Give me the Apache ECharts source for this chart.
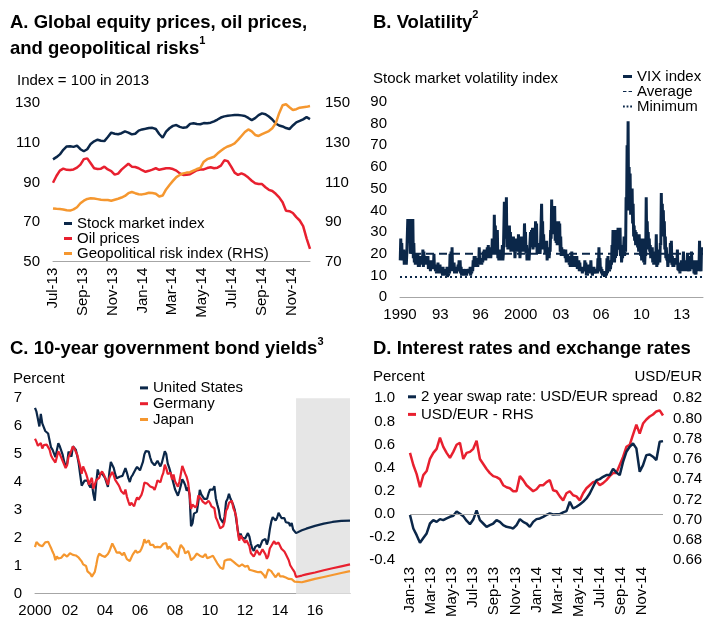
<!DOCTYPE html>
<html><head><meta charset="utf-8">
<script src="https://cdn.jsdelivr.net/npm/echarts@6/dist/echarts.min.js"></script>
<style>html,body{margin:0;padding:0;background:#fff}#c{width:705px;height:618px}</style>
</head><body><div id="c"></div>
<script>
const NAVY = '#0b2749', RED = '#e8202f', ORANGE = '#f5972f', AXIS_GREY = '#a6a6a6', SHADE = '#e6e6e6';
const FONT = '"Liberation Sans", Arial, sans-serif';
const monthNames = ['Jan','Feb','Mar','Apr','May','Jun','Jul','Aug','Sep','Oct','Nov','Dec'];

// ---------- Panel A: weekly, from Jul-2013 ----------
const aStartMonth = 6, aStartYY = 13;
const aStock = [101.7,102.8,104.2,106.5,108.2,108.3,108.0,108.6,106.8,105.8,
  106.8,109.5,110.8,111.6,111.1,110.9,113.0,115.2,114.6,114.4,
  114.9,115.8,115.2,114.3,114.6,116.2,116.8,117.1,117.5,117.6,
  117.0,114.5,112.6,115.7,117.4,118.6,119.0,118.1,117.6,117.9,
  119.6,119.9,119.5,119.4,120.0,119.9,120.2,120.9,121.8,122.8,
  123.4,123.7,123.9,124.1,124.1,123.9,123.6,122.6,121.5,122.5,
  124.0,124.9,124.5,123.3,121.8,119.8,118.8,118.3,117.5,117.0,
  118.8,120.4,121.1,121.9,123.0,122.0];
const aOil = [89.9,93.3,96.0,97.0,96.4,96.3,96.6,97.5,99.0,101.8,
  102.2,99.7,97.2,96.8,97.0,98.0,96.6,95.8,94.0,94.5,
  96.5,98.0,99.5,98.0,97.8,97.2,96.2,95.4,95.9,96.5,
  97.2,96.4,96.8,97.2,97.2,96.8,96.0,94.6,93.8,93.9,
  94.2,95.2,96.2,96.6,96.6,97.3,97.7,97.2,97.5,98.5,
  101.2,100.8,98.0,95.0,93.8,94.6,93.8,92.5,90.9,89.6,
  89.2,89.2,87.6,86.3,85.7,84.3,82.5,80.0,75.7,75.5,
  74.6,72.5,70.8,68.0,61.8,56.5];
const aGeo = [96.9,96.7,96.6,96.4,96.0,95.8,96.4,97.5,99.5,100.8,
  101.7,102.0,101.9,101.6,101.3,101.2,101.2,100.8,101.3,101.8,
  102.4,103.2,104.6,105.2,104.6,104.1,104.0,104.3,104.8,104.7,
  104.3,102.9,103.4,106.5,108.7,110.8,112.7,113.8,114.6,115.0,
  115.2,116.0,116.8,117.4,120.5,121.8,122.4,123.0,124.6,126.0,
  127.3,128.2,128.8,129.8,131.5,133.5,135.5,136.8,135.8,134.0,
  133.5,134.4,135.2,136.0,137.4,139.9,145.0,149.0,149.5,148.0,
  146.6,147.0,147.8,148.0,148.2,148.6];
const aWeek = 7 / 30.4375; // one week in months
const aX = i => i * aWeek;
const aMax = aX(aStock.length - 1);

// ---------- Panel B: VIX monthly low / high 1990-2014 ----------
const vixLow = [
  17,20,17,17,15,15,15,20,25,25,20,20,
  24,18,16,15,15,15,14,14,15,15,15,14,
  15,15,15,15,13,13,12,13,13,14,13,12,
  11,12,11,12,11,11,10,10,10,10,10,9.3,
  10,11,13,14,12,12,11,11,11,12,13,12,
  11,10,10,10,11,10,10,11,11,11,10,11,
  12,14,15,14,14,14,15,15,15,15,16,18,
  18,17,18,19,18,18,18,20,21,20,23,21,
  20,18,17,18,17,18,17,20,31,27,23,22,
  23,23,21,23,22,21,18,21,21,21,21,18,
  21,21,21,23,24,20,17,17,17,21,23,25,
  22,23,25,25,20,20,20,20,25,27,22,22,
  20,21,17,18,18,21,27,29,30,30,26,25,
  24,29,27,21,19,19,19,19,18,16,16,16,
  15,14,15,14,15,14,14,15,13,14,12,12,
  12,11,12,12,12,10,10,11,11,12,11,10,
  11,11,11,11,11,13,13,12,11,10,10,9.4,
  10,10,11,12,12,13,15,19,17,16,18,19,
  22,23,23,19,16,18,22,19,21,40,50,40,
  40,38,38,34,28,26,24,24,23,21,21,19,
  17,19,16,15,19,25,23,22,21,18,18,16,
  15,15,17,14,15,17,16,24,31,29,28,22,
  18,17,14,16,17,17,15,14,14,15,15,15,
  12.5,12,11,12,12,14,12,12,13,13,12,12,
  12,13,14,13,11,10.5,10.5,12,12,14,13,12];
const vixHigh = [
  27,25,21,22,19,18,20,36,33,36,28,26,
  36,25,20,19,18,20,17,19,18,19,22,21,
  19,18,18,19,16,17,16,17,16,20,15,14,
  15,16,14,15,14,13,14,12,13,13,14,12,
  12,20,21,23,16,16,14,13,14,15,17,17,
  14,12,13,12,13,13,13,13,13,14,13,14,
  17,19,19,18,18,16,23,18,18,18,21,22,
  22,21,23,24,21,22,23,27,25,38,33,27,
  31,21,20,22,21,24,20,44,42,46,28,27,
  33,30,27,28,28,26,22,27,26,29,24,23,
  28,26,27,34,30,24,22,20,21,30,31,32,
  30,31,35,34,25,23,24,25,43,35,29,25,
  25,26,21,22,23,31,45,40,40,42,34,32,
  35,35,34,28,23,22,22,22,22,20,20,19,
  18,16,21,17,19,16,17,19,15,17,16,14,
  14,13,14,17,16,13,12,15,13,17,13,12,
  14,13,12,13,18,23,18,14,13,12,12,11,
  11,18,19,15,14,17,24,31,26,23,31,23,
  32,28,32,23,20,24,28,22,46,70,81,60,
  57,50,50,43,33,31,30,27,26,29,25,22,
  27,27,19,22,46,35,30,27,24,22,23,18,
  19,21,29,17,18,22,25,48,43,40,35,28,
  23,19,17,20,25,26,19,18,17,18,18,22,
  15,16,14,17,16,21,15,17,17,20,14,16,
  19,21,17,17,14,12.5,17,16,16,26,14,23];
const vixAverage = 20.0;
const vixMinimum = 9.31;
const bStartYear = 1990, bMax = 2015.1;

// ---------- Panel C: 10-year yields, monthly 2000-2014 + forwards ----------
const usYield = [
  6.66,6.52,6.26,5.99,6.44,6.10,6.05,5.83,5.80,5.74,5.72,5.24,
  5.16,5.10,4.89,5.14,5.39,5.28,5.24,4.97,4.73,4.57,4.65,5.09,
  5.04,4.91,5.28,5.21,5.16,4.93,4.65,4.26,3.87,3.94,4.05,4.03,
  4.05,3.90,3.81,3.96,3.57,3.33,3.98,4.45,4.27,4.29,4.30,4.27,
  4.15,4.08,3.83,4.35,4.72,4.73,4.50,4.28,4.13,4.10,4.19,4.23,
  4.22,4.17,4.50,4.34,4.14,4.00,4.18,4.26,4.20,4.46,4.54,4.47,
  4.42,4.57,4.72,4.99,5.11,5.11,5.09,4.88,4.72,4.73,4.60,4.56,
  4.76,4.72,4.56,4.69,4.75,5.10,5.00,4.67,4.52,4.53,4.15,4.10,
  3.74,3.74,3.51,3.68,3.88,4.10,4.01,3.89,3.69,3.81,3.53,2.42,
  2.52,2.87,2.82,2.93,3.29,3.72,3.56,3.59,3.40,3.39,3.40,3.59,
  3.73,3.69,3.73,3.85,3.42,3.20,3.01,2.70,2.65,2.54,2.76,3.29,
  3.39,3.58,3.41,3.46,3.17,3.00,3.00,2.30,1.98,2.15,2.01,1.98,
  1.97,1.97,2.17,2.05,1.80,1.62,1.53,1.68,1.72,1.75,1.65,1.72,
  1.91,1.98,1.96,1.76,1.93,2.30,2.58,2.74,2.81,2.62,2.72,2.90,
  2.86,2.71,2.72,2.71,2.56,2.60,2.54,2.42,2.53,2.30,2.33,2.17];
const deYield = [
  5.55,5.44,5.30,5.28,5.40,5.20,5.32,5.25,5.34,5.25,5.16,4.95,
  4.85,4.79,4.70,4.90,5.10,5.00,5.00,4.75,4.74,4.50,4.60,4.90,
  5.00,4.96,5.28,5.20,5.18,4.97,4.76,4.56,4.30,4.56,4.60,4.30,
  4.13,3.90,4.05,4.15,3.76,3.82,4.07,4.11,4.15,4.30,4.38,4.29,
  4.17,4.06,3.90,4.15,4.26,4.36,4.24,4.08,4.05,3.92,3.82,3.68,
  3.61,3.57,3.73,3.48,3.31,3.16,3.26,3.24,3.13,3.32,3.45,3.37,
  3.38,3.54,3.71,3.98,4.01,3.95,3.99,3.84,3.78,3.80,3.72,3.87,
  4.06,4.05,3.99,4.19,4.33,4.62,4.49,4.29,4.30,4.33,4.09,4.27,
  4.03,3.96,3.83,4.01,4.29,4.58,4.56,4.30,4.18,3.98,3.55,3.04,
  3.19,3.20,3.09,3.17,3.52,3.45,3.39,3.30,3.25,3.22,3.19,3.33,
  3.25,3.13,3.11,3.06,2.73,2.62,2.67,2.34,2.35,2.41,2.59,2.97,
  3.06,3.25,3.27,3.33,3.07,2.94,2.75,2.25,1.90,2.08,2.15,1.91,
  1.83,1.91,1.87,1.71,1.46,1.44,1.33,1.43,1.56,1.51,1.39,1.36,
  1.59,1.62,1.41,1.25,1.36,1.62,1.63,1.80,1.88,1.78,1.71,1.83,
  1.76,1.61,1.57,1.51,1.41,1.35,1.20,1.02,0.99,0.85,0.77,0.60];
const jpYield = [
  1.67,1.85,1.80,1.74,1.71,1.70,1.73,1.84,1.89,1.86,1.75,1.64,
  1.51,1.40,1.20,1.34,1.26,1.19,1.29,1.36,1.41,1.36,1.33,1.35,
  1.45,1.52,1.39,1.40,1.37,1.33,1.29,1.23,1.16,1.05,0.99,0.99,
  0.80,0.78,0.71,0.61,0.54,0.78,1.03,1.30,1.43,1.42,1.36,1.34,
  1.32,1.26,1.42,1.52,1.52,1.80,1.78,1.59,1.47,1.50,1.48,1.43,
  1.38,1.48,1.45,1.24,1.26,1.17,1.24,1.40,1.42,1.55,1.47,1.47,
  1.51,1.61,1.74,1.95,1.82,1.86,1.91,1.75,1.69,1.75,1.66,1.66,
  1.68,1.69,1.66,1.69,1.79,1.86,1.81,1.59,1.69,1.62,1.55,1.51,
  1.44,1.45,1.30,1.60,1.75,1.75,1.61,1.44,1.50,1.53,1.39,1.20,
  1.27,1.29,1.33,1.44,1.46,1.36,1.40,1.31,1.32,1.42,1.27,1.29,
  1.31,1.32,1.36,1.27,1.27,1.09,1.05,0.94,0.95,0.88,1.18,1.11,
  1.22,1.28,1.23,1.24,1.15,1.14,1.06,1.03,0.98,1.02,1.05,0.98,
  0.97,0.95,1.00,0.86,0.83,0.83,0.76,0.80,0.78,0.77,0.71,0.78,
  0.76,0.66,0.56,0.58,0.87,0.84,0.81,0.73,0.68,0.59,0.61,0.74,
  0.62,0.58,0.62,0.62,0.58,0.56,0.53,0.50,0.52,0.46,0.43,0.36];
const fwdYears = [2014.917, 2015.25, 2015.5, 2016, 2016.5, 2017, 2017.5, 2018];
const usFwd = [2.17, 2.27, 2.33, 2.43, 2.51, 2.57, 2.61, 2.62];
const deFwd = [0.60, 0.65, 0.69, 0.76, 0.84, 0.91, 0.98, 1.05];
const jpFwd = [0.36, 0.41, 0.45, 0.53, 0.60, 0.67, 0.74, 0.81];
const cStartYear = 2000, cMax = 2018;

// ---------- Panel D: Jan-2013 to Dec-2014 ----------
const dSpread = [-0.01,-0.127,-0.185,-0.25,-0.21,-0.17,-0.084,-0.055,-0.07,-0.046,
  -0.055,-0.04,-0.026,-0.017,0.02,0.0,-0.02,-0.06,-0.09,-0.05,
  0.03,-0.055,-0.084,-0.113,-0.098,-0.084,-0.055,-0.07,-0.098,-0.113,
  -0.118,-0.127,-0.098,-0.046,-0.07,-0.084,-0.113,-0.07,-0.046,-0.04,
  -0.026,-0.01,0.003,-0.006,-0.003,-0.003,0.012,0.023,0.104,0.046,
  0.061,0.081,0.104,0.133,0.176,0.234,0.291,0.30,0.32,0.335,
  0.335,0.39,0.358,0.335,0.45,0.537,0.58,0.609,0.566,0.364,
  0.421,0.508,0.514,0.494,0.465,0.623,0.629];
const dUsdEur = [0.766,0.754,0.745,0.732,0.744,0.748,0.760,0.766,0.770,0.781,
  0.772,0.766,0.761,0.767,0.774,0.776,0.760,0.766,0.767,0.770,
  0.778,0.760,0.755,0.750,0.746,0.743,0.742,0.740,0.734,0.732,
  0.731,0.728,0.728,0.743,0.739,0.734,0.731,0.728,0.730,0.734,
  0.734,0.737,0.739,0.729,0.728,0.723,0.719,0.726,0.728,0.724,
  0.723,0.719,0.726,0.731,0.734,0.737,0.738,0.734,0.736,0.739,
  0.743,0.746,0.746,0.754,0.762,0.772,0.774,0.784,0.794,0.785,
  0.795,0.799,0.802,0.804,0.807,0.808,0.803];
const dStartMonth = 0, dStartYY = 13, dMax = 24;
const dX = i => i * dMax / (dSpread.length - 1);

// ---------- helpers ----------
function monthLabel(startMonth, startYY) {
  return v => {
    const m = Math.round(v);
    if (Math.abs(v - m) > 1e-6) return '';
    const idx = startMonth + m;
    return monthNames[idx % 12] + '-' + String(startYY + Math.floor(idx / 12)).padStart(2, '0');
  };
}
function yearLabel(v) {
  const y = Math.floor(v + 0.01);
  return (y === 1990 || y === 2000) ? String(y) : String(y % 100).padStart(2, '0');
}
const lbl = { color: '#000', fontSize: 15, fontFamily: FONT };
function xBase(gi, extra) {
  return Object.assign({
    type: 'value', gridIndex: gi,
    axisLine: { show: true, lineStyle: { color: AXIS_GREY, width: 1 } },
    axisTick: { show: false }, splitLine: { show: false }
  }, extra);
}
function yBase(gi, extra) {
  return Object.assign({
    type: 'value', gridIndex: gi,
    axisLine: { show: false }, axisTick: { show: false }, splitLine: { show: false }
  }, extra);
}
function lineSeries(name, xi, yi, data, color, width, extra) {
  return Object.assign({
    name, type: 'line', xAxisIndex: xi, yAxisIndex: yi, data,
    symbol: 'none', showSymbol: false, animation: false,
    lineStyle: { color, width }, itemStyle: { color }
  }, extra || {});
}

// build series data
const aStockD = aStock.map((v, i) => [aX(i), v]);
const aOilD = aOil.map((v, i) => [aX(i), v]);
const aGeoD = aGeo.map((v, i) => [aX(i), v]);
const vixD = [];
vixLow.forEach((lo, m) => {
  vixD.push([bStartYear + (m + 0.25) / 12, lo]);
  vixD.push([bStartYear + (m + 0.75) / 12, vixHigh[m]]);
});
const cHist = (arr) => arr.map((v, i) => [cStartYear + i / 12, v]);
const usD = cHist(usYield).concat(fwdYears.slice(1).map((y, i) => [y, usFwd[i + 1]]));
const deD = cHist(deYield).concat(fwdYears.slice(1).map((y, i) => [y, deFwd[i + 1]]));
const jpD = cHist(jpYield).concat(fwdYears.slice(1).map((y, i) => [y, jpFwd[i + 1]]));
const dSpreadD = dSpread.map((v, i) => [dX(i), v]);
const dFxD = dUsdEur.map((v, i) => [dX(i), v]);

const titleRich = {
  t: { fontSize: 18.5, fontWeight: 'bold', color: '#000', fontFamily: FONT, lineHeight: 26 },
  s: { fontSize: 11, fontWeight: 'bold', color: '#000', fontFamily: FONT, lineHeight: 14, verticalAlign: 'top' }
};
const subStyle = { fontSize: 15, fontWeight: 'normal', color: '#000', fontFamily: FONT, lineHeight: 18 };

const ICON_SOLID = 'rect';
const ICON_DASH = 'path://M0,0H4V1H0Z M6.5,0H10.5V1H6.5Z';
const ICON_DOT = 'path://M0,0H2V2H0Z M4,0H6V2H4Z M8,0H10V2H8Z';
const legendBase = (extra, lh) => Object.assign({
  orient: 'vertical', itemGap: 0, itemWidth: 8, itemHeight: 3, padding: 0, selectedMode: false,
  textStyle: { color: '#000', fontSize: 15, fontFamily: FONT, lineHeight: lh || 15 }
}, extra);

const option = {
  animation: false,
  textStyle: { fontFamily: FONT },
  title: [
    { left: 10, top: 9.6, padding: 0, text: '{t|A. Global equity prices, oil prices,}\n{t|and geopolitical risks}{s|1}', textStyle: { rich: titleRich } },
    { left: 373, top: 9.6, padding: 0, text: '{t|B. Volatility}{s|2}', textStyle: { rich: titleRich } },
    { left: 10, top: 336, padding: 0, text: '{t|C. 10-year government bond yields}{s|3}', textStyle: { rich: titleRich } },
    { left: 373, top: 336, padding: 0, text: '{t|D. Interest rates and exchange rates}', textStyle: { rich: titleRich } },
    { left: 17, top: 72, padding: 0, text: 'Index = 100 in 2013', textStyle: subStyle },
    { left: 373, top: 70, padding: 0, text: 'Stock market volatility index', textStyle: subStyle },
    { left: 13, top: 370, padding: 0, text: 'Percent', textStyle: subStyle },
    { left: 373, top: 368, padding: 0, text: 'Percent', textStyle: subStyle },
    { right: 3, top: 368, padding: 0, text: 'USD/EUR', textStyle: subStyle }
  ],
  grid: [
    { left: 53, top: 103.3, width: 257, height: 158.4, outerBoundsMode: 'none' },
    { left: 400, top: 101.7, width: 303, height: 195.6, outerBoundsMode: 'none' },
    { left: 35, top: 398.3, width: 315, height: 195.4, outerBoundsMode: 'none' },
    { left: 410, top: 398.3, width: 253, height: 161.7, outerBoundsMode: 'none' }
  ],
  xAxis: [
    xBase(0, { min: 0, max: aMax, interval: 2,
      axisLabel: Object.assign({ rotate: 90, margin: 6, showMaxLabel: false, formatter: monthLabel(aStartMonth, aStartYY) }, lbl) }),
    xBase(1, { min: bStartYear, max: bMax, interval: 10 / 3,
      axisLabel: Object.assign({ margin: 10, showMaxLabel: false, formatter: yearLabel }, lbl) }),
    xBase(2, { min: cStartYear, max: cMax, interval: 2,
      axisLabel: Object.assign({ margin: 10, showMaxLabel: false, formatter: yearLabel }, lbl) }),
    xBase(3, { min: 0, max: dMax, interval: 2, axisLine: { show: false },
      axisLabel: Object.assign({ rotate: 90, margin: 7, showMaxLabel: false, formatter: monthLabel(dStartMonth, dStartYY) }, lbl) })
  ],
  yAxis: [
    yBase(0, { min: 50, max: 130, interval: 20, axisLabel: Object.assign({ margin: 13 }, lbl) }),
    yBase(0, { position: 'right', min: 70, max: 150, interval: 20, axisLabel: Object.assign({ margin: 15 }, lbl) }),
    yBase(1, { min: 0, max: 90, interval: 10, axisLabel: Object.assign({ margin: 13 }, lbl) }),
    yBase(2, { min: 0, max: 7, interval: 1, axisLabel: Object.assign({ margin: 13 }, lbl) }),
    yBase(3, { min: -0.4, max: 1.0, interval: 0.2, axisLabel: Object.assign({ margin: 15, formatter: v => v.toFixed(1) }, lbl) }),
    yBase(3, { position: 'right', min: 0.66, max: 0.82, interval: 0.02, axisLabel: Object.assign({ margin: 10, formatter: v => v.toFixed(2) }, lbl) })
  ],
  legend: [
    legendBase({ left: 64, top: 216, icon: ICON_SOLID,
      data: ['Stock market index', 'Oil prices', 'Geopolitical risk index (RHS)'] }),
    legendBase({ left: 623, top: 69, itemWidth: 9,
      data: [{ name: 'VIX index', icon: ICON_SOLID }, { name: 'Average', icon: ICON_DASH }, { name: 'Minimum', icon: ICON_DOT }] }),
    legendBase({ left: 140, top: 380, icon: ICON_SOLID, data: ['United States', 'Germany', 'Japan'] }, 15.8),
    legendBase({ left: 408, top: 388, icon: ICON_SOLID, data: ['2 year swap rate: USD/EUR spread', 'USD/EUR - RHS'] }, 17.6)
  ],
  series: [
    lineSeries('Stock market index', 0, 0, aStockD, NAVY, 2.5),
    lineSeries('Oil prices', 0, 0, aOilD, RED, 2.5),
    lineSeries('Geopolitical risk index (RHS)', 0, 1, aGeoD, ORANGE, 2.5),

    lineSeries('Average', 1, 2, [[bStartYear, vixAverage], [bMax, vixAverage]], NAVY, 2, { lineStyle: { color: NAVY, width: 2, type: [8, 5] } }),
    lineSeries('Minimum', 1, 2, [[bStartYear, vixMinimum], [bMax, vixMinimum]], NAVY, 2, { lineStyle: { color: NAVY, width: 2, type: [2, 3] } }),
    lineSeries('VIX index', 1, 2, vixD, NAVY, 3),

    lineSeries('United States', 2, 3, usD, NAVY, 2.2, {
      markArea: { silent: true, itemStyle: { color: SHADE }, data: [[{ xAxis: fwdYears[0] }, { xAxis: cMax }]] }
    }),
    lineSeries('Germany', 2, 3, deD, RED, 2.2),
    lineSeries('Japan', 2, 3, jpD, ORANGE, 2.2),

    lineSeries('USD/EUR - RHS', 3, 5, dFxD, RED, 2.5),
    lineSeries('2 year swap rate: USD/EUR spread', 3, 4, dSpreadD, NAVY, 2.5, {
      markLine: { silent: true, symbol: 'none', label: { show: false }, lineStyle: { color: AXIS_GREY, width: 1, type: 'solid' }, data: [{ yAxis: 0 }] }
    })
  ]
};
const chart = echarts.init(document.getElementById('c'), null, { renderer: 'canvas' });
chart.setOption(option);
</script></body></html>
